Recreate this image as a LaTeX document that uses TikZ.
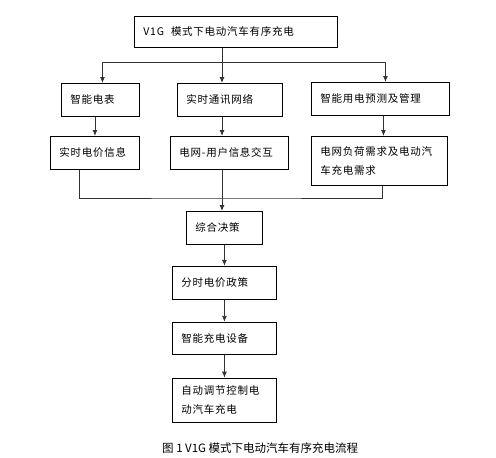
\documentclass[tikz,border=0pt]{standalone}
\usepackage{fontspec}
\setmainfont{Noto Sans CJK SC}
\newfontfamily\boxfont[LetterSpace=7]{Noto Sans CJK SC}
\usetikzlibrary{arrows.meta,positioning}
\tikzset{
  stepbox/.style={
    rectangle, draw=black, line width=0.9pt, anchor=north west,
    align=left, inner xsep=9pt, inner ysep=0pt,
    font=\boxfont\fontsize{10.5}{19}\selectfont},
  arrowline/.style={-{Latex[length=6pt,width=5pt]}, line width=0.9pt, draw=black!80},
  joinline/.style={line width=0.9pt, draw=black!80}
}

\begin{document}
\begin{tikzpicture}[x=1pt, y=-1pt, node distance=21pt]
        \useasboundingbox (0,0) rectangle (496,458);

        \node[stepbox, text width=185pt, minimum height=31pt] (mode) at (134,16) {V1G\ \ 模式下电动汽车有序充电};

        \node[stepbox, text width=60pt, minimum height=33pt] (meter) at (61,83) {智能电表};
        \node[stepbox, text width=87pt, minimum height=33pt] (comm) at (177,83) {实时通讯网络};
        \node[stepbox, text width=120pt, minimum height=33pt] (predict) at (311,82) {智能用电预测及管理};

        \node[stepbox, text width=71pt, minimum height=33pt] (price) at (50,136) {实时电价信息};
        \node[stepbox, text width=100pt, minimum height=33pt] (inter) at (170,136) {电网-用户信息交互};
        \node[stepbox, text width=118pt, minimum height=49pt] (demand) at (311,136) {电网负荷需求及电动汽\\车充电需求};

        \node[stepbox, text width=58pt, minimum height=33pt] (decide) at (186,211) {综合决策};
        \node[stepbox, text width=86pt, minimum height=33pt, below=21pt of decide] (tariff) {分时电价政策};
        \node[stepbox, text width=86pt, minimum height=32pt, below=22pt of tariff] (charger) {智能充电设备};
        \node[stepbox, text width=86pt, minimum height=44pt, below=23pt of charger] (control) {自动调节控制电\\动汽车充电};

        \node[font=\fontsize{11.5}{14}\selectfont, anchor=west, inner sep=0pt] (caption) at (162,448) {图 1 V1G 模式下电动汽车有序充电流程};

        % fan out from the top box
        \coordinate (split) at (222,62);
        \draw[joinline] (split |- mode.south) -- (split);
        \draw[arrowline] (split) -| ([xshift=2pt]meter.north);
        \draw[arrowline] (split) -- (split |- comm.north);
        \draw[arrowline] (split) -| ([xshift=5pt]predict.north);

        \draw[arrowline] (meter.south -| price.north) -- (price.north);
        \draw[arrowline] (split |- comm.south) -- (split |- inter.north);
        \draw[arrowline] ([xshift=3pt]predict.south) -- ([xshift=3pt]predict.south |- demand.north);

        % merge into the decision
        \coordinate (merge) at (222,198);
        \draw[joinline] ([xshift=-16pt]price.south) |- (merge) -| ([xshift=3pt]demand.south);
        \draw[arrowline] (split |- inter.south) -- (split |- decide.north);

        \draw[arrowline] (decide.south) -- (decide.south |- tariff.north);
        \draw[arrowline] (tariff.south) -- (tariff.south |- charger.north);
        \draw[arrowline] (charger.south) -- (charger.south |- control.north);
      \end{tikzpicture}
\end{document}
